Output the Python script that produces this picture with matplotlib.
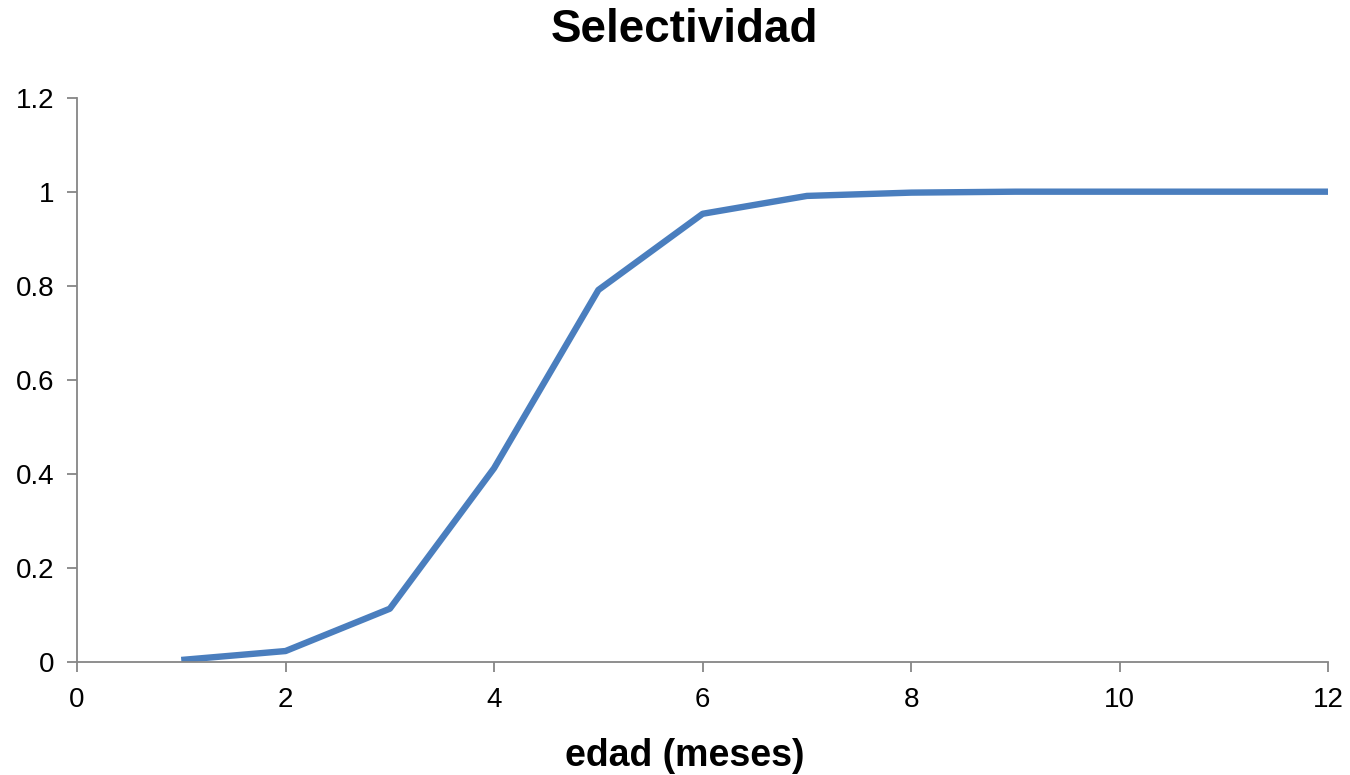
import matplotlib

matplotlib.use("Agg")
import matplotlib.pyplot as plt

# data
edad = [1, 2, 3, 4, 5, 6, 7, 8, 9, 10, 11, 12]
selectividad = [0.004, 0.023, 0.113, 0.412, 0.791, 0.953, 0.991, 0.998, 1.0, 1.0, 1.0, 1.0]
x_ticks = [0, 2, 4, 6, 8, 10, 12]
y_ticks = [0, 0.2, 0.4, 0.6, 0.8, 1.0, 1.2]
y_labels = ["0", "0.2", "0.4", "0.6", "0.8", "1", "1.2"]

plt.rcParams["font.family"] = ["Liberation Sans Narrow", "Liberation Sans", "DejaVu Sans"]

fig = plt.figure(figsize=(13.5, 7.75), dpi=100)
ax = fig.add_axes([0.057, 0.146, 0.927, 0.728])

ax.plot(edad, selectividad, color="#4A7EBE", linewidth=4.6, solid_capstyle="butt")

ax.set_xlim(0, 12)
ax.set_ylim(0, 1.2)
ax.set_xticks(x_ticks)
ax.set_yticks(y_ticks)
ax.set_yticklabels(y_labels)

for side in ("top", "right"):
    ax.spines[side].set_visible(False)
for side in ("left", "bottom"):
    ax.spines[side].set_color("#868686")
    ax.spines[side].set_linewidth(1.3)

ax.tick_params(axis="both", direction="out", length=7, width=1.3, color="#868686",
               labelsize=20, labelcolor="black")
ax.tick_params(axis="x", pad=11)
ax.tick_params(axis="y", pad=9)

ax.set_xlabel("edad (meses)", fontsize=27, fontweight="bold")
ax.xaxis.set_label_coords(0.486, -0.135)
fig.suptitle("Selectividad", x=0.507, y=0.99, fontsize=33, fontweight="bold")

fig.savefig("out.png", dpi=100)
plt.close(fig)
